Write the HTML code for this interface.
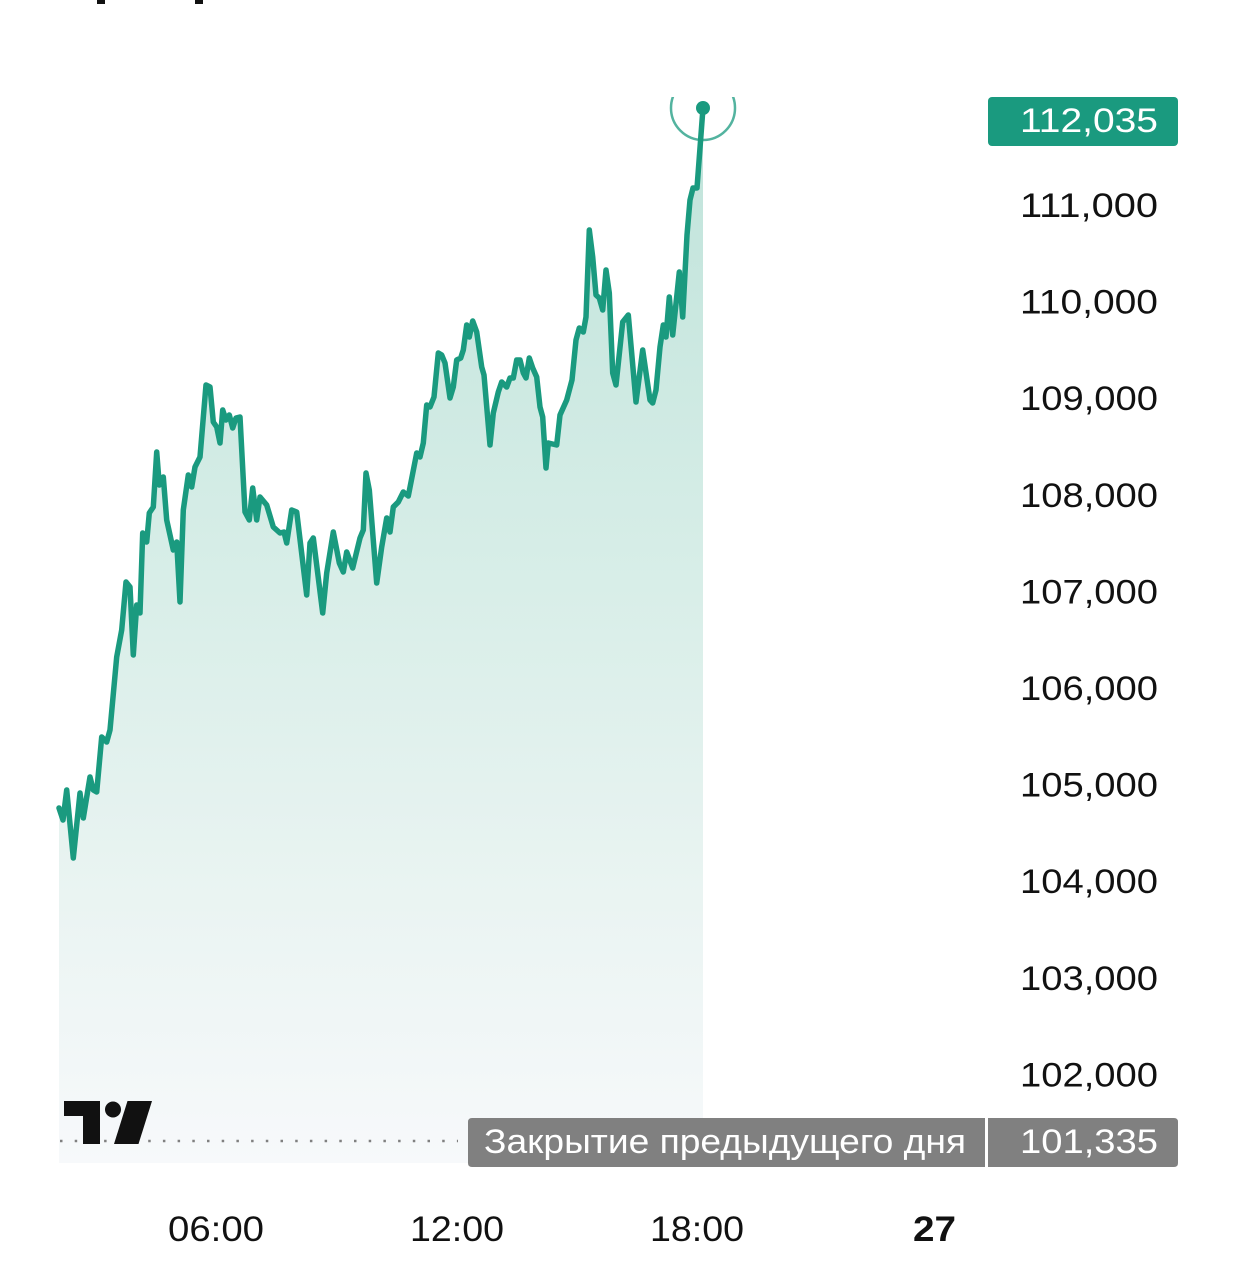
<!DOCTYPE html>
<html><head><meta charset="utf-8"><style>
html,body{margin:0;padding:0;background:#fff;}
svg{display:block;}
text{font-family:"Liberation Sans","DejaVu Sans",sans-serif;}
</style></head><body>
<svg width="1251" height="1280" viewBox="0 0 1251 1280" xmlns="http://www.w3.org/2000/svg">
<defs>
<linearGradient id="g" gradientUnits="userSpaceOnUse" x1="0" y1="108" x2="0" y2="1163">
<stop offset="0" stop-color="#bfe3da"/>
<stop offset="0.45" stop-color="#d8eee8"/>
<stop offset="0.75" stop-color="#eaf4f2"/>
<stop offset="1" stop-color="#f7f9fb"/>
</linearGradient>
<clipPath id="pane"><rect x="0" y="97" width="980" height="1070"/></clipPath>
</defs>
<rect x="97" y="0" width="8" height="4" fill="#111"/>
<rect x="195" y="0" width="8" height="4" fill="#111"/>
<g clip-path="url(#pane)">
<path fill="url(#g)" d="M59,808 L63,820 L66.7,790 L73.3,858 L80,793 L83.3,818 L90,777 L93.3,790 L96.7,792 L101.7,737 L106.7,742 L110,730 L116.7,657 L121.7,630 L126,582 L130,587 L133.3,655 L136.7,605 L140,613 L142.7,533 L146.7,542 L149.3,513 L153.3,507 L156.7,452 L159.3,485 L163.3,477 L166.7,520 L173.3,550 L176.7,542 L180,602 L183.3,510 L188.3,475 L191.7,487 L195,467 L200,457 L206,385 L210,387 L213.3,422 L216.7,427 L220,443 L222.7,410 L226,420 L229.3,415 L232.7,428 L236,418 L240,417 L245,512 L249.3,520 L252.7,488 L256.7,520 L260,497 L266.7,505 L273.3,527 L280,533 L284,532 L286.7,543 L291.7,510 L296.7,512 L306.7,595 L310,543 L313.3,538 L322.7,613 L326.7,573 L333.3,532 L339.3,563 L343.3,572 L346.7,552 L352.7,568 L360,538 L363.3,530 L366,473 L369.3,490 L376.7,583 L381.7,547 L386.7,518 L390,532 L393.3,507 L398.3,502 L403.3,492 L408.3,496 L416.7,453 L420,457 L423.3,443 L426.7,405 L430,407 L434,397 L438.3,353 L441.7,355 L445,363 L450,398 L453.3,387 L456.7,360 L460.7,358 L463.3,350 L466.7,325 L469.3,337 L472.7,321 L476.7,332 L481.7,367 L484,375 L490,445 L493.3,413 L498.3,392 L501.7,382 L506.7,387 L510,378 L513.3,378 L516.7,360 L520,360 L523.3,373 L526,378 L529.3,358 L532.7,368 L536.7,377 L540,407 L542.7,417 L546,468 L548.3,443 L556.7,445 L560,415 L566.7,400 L572,380 L576,340 L579.3,328 L583.3,332 L586,317 L589.3,230 L592.7,257 L596,295 L599.3,298 L602.7,310 L606,270 L609.3,293 L612.7,373 L616,385 L622.7,322 L628.3,315 L636,402 L642.7,350 L650,400 L652.7,403 L656,390 L660,347 L663.3,325 L666,337 L669.3,297 L672.7,335 L679.3,272 L682.7,317 L687,235 L690,200 L693,188 L697,188 L703,108 L703,1163 L59,1163 Z"/>
<path fill="none" stroke="#1a9a7f" stroke-width="5.5" stroke-linejoin="round" stroke-linecap="round" d="M59,808 L63,820 L66.7,790 L73.3,858 L80,793 L83.3,818 L90,777 L93.3,790 L96.7,792 L101.7,737 L106.7,742 L110,730 L116.7,657 L121.7,630 L126,582 L130,587 L133.3,655 L136.7,605 L140,613 L142.7,533 L146.7,542 L149.3,513 L153.3,507 L156.7,452 L159.3,485 L163.3,477 L166.7,520 L173.3,550 L176.7,542 L180,602 L183.3,510 L188.3,475 L191.7,487 L195,467 L200,457 L206,385 L210,387 L213.3,422 L216.7,427 L220,443 L222.7,410 L226,420 L229.3,415 L232.7,428 L236,418 L240,417 L245,512 L249.3,520 L252.7,488 L256.7,520 L260,497 L266.7,505 L273.3,527 L280,533 L284,532 L286.7,543 L291.7,510 L296.7,512 L306.7,595 L310,543 L313.3,538 L322.7,613 L326.7,573 L333.3,532 L339.3,563 L343.3,572 L346.7,552 L352.7,568 L360,538 L363.3,530 L366,473 L369.3,490 L376.7,583 L381.7,547 L386.7,518 L390,532 L393.3,507 L398.3,502 L403.3,492 L408.3,496 L416.7,453 L420,457 L423.3,443 L426.7,405 L430,407 L434,397 L438.3,353 L441.7,355 L445,363 L450,398 L453.3,387 L456.7,360 L460.7,358 L463.3,350 L466.7,325 L469.3,337 L472.7,321 L476.7,332 L481.7,367 L484,375 L490,445 L493.3,413 L498.3,392 L501.7,382 L506.7,387 L510,378 L513.3,378 L516.7,360 L520,360 L523.3,373 L526,378 L529.3,358 L532.7,368 L536.7,377 L540,407 L542.7,417 L546,468 L548.3,443 L556.7,445 L560,415 L566.7,400 L572,380 L576,340 L579.3,328 L583.3,332 L586,317 L589.3,230 L592.7,257 L596,295 L599.3,298 L602.7,310 L606,270 L609.3,293 L612.7,373 L616,385 L622.7,322 L628.3,315 L636,402 L642.7,350 L650,400 L652.7,403 L656,390 L660,347 L663.3,325 L666,337 L669.3,297 L672.7,335 L679.3,272 L682.7,317 L687,235 L690,200 L693,188 L697,188 L703,108"/>
<circle cx="703" cy="108" r="32" fill="none" stroke="#1a9a7f" stroke-opacity="0.75" stroke-width="2.5"/>
<circle cx="703" cy="108" r="7" fill="#1a9a7f"/>
</g>
<line x1="60" y1="1141" x2="458" y2="1141" stroke="#808080" stroke-width="2.5" stroke-dasharray="2.5 12.2" stroke-linecap="butt"/>
<g fill="#111">
<rect x="64" y="1101" width="36" height="15"/>
<rect x="83" y="1101" width="17" height="43"/>
<circle cx="113" cy="1109.5" r="8"/>
<polygon points="127.5,1101 152,1101 138.5,1144 114,1144"/>
</g>
<g font-size="34" fill="#111">
<text x="1020" y="217" textLength="138" lengthAdjust="spacingAndGlyphs">111,000</text>
<text x="1020" y="313.6" textLength="138" lengthAdjust="spacingAndGlyphs">110,000</text>
<text x="1020" y="410.2" textLength="138" lengthAdjust="spacingAndGlyphs">109,000</text>
<text x="1020" y="506.8" textLength="138" lengthAdjust="spacingAndGlyphs">108,000</text>
<text x="1020" y="603.4" textLength="138" lengthAdjust="spacingAndGlyphs">107,000</text>
<text x="1020" y="700" textLength="138" lengthAdjust="spacingAndGlyphs">106,000</text>
<text x="1020" y="796.6" textLength="138" lengthAdjust="spacingAndGlyphs">105,000</text>
<text x="1020" y="893.2" textLength="138" lengthAdjust="spacingAndGlyphs">104,000</text>
<text x="1020" y="989.8" textLength="138" lengthAdjust="spacingAndGlyphs">103,000</text>
<text x="1020" y="1086.4" textLength="138" lengthAdjust="spacingAndGlyphs">102,000</text>
</g>
<rect x="988" y="97" width="190" height="49" rx="4" fill="#1a9a7f"/>
<text x="1020" y="132" font-size="34" fill="#fff" textLength="138" lengthAdjust="spacingAndGlyphs">112,035</text>
<path d="M472,1118 H985 V1167 H472 Q468,1167 468,1163 V1122 Q468,1118 472,1118 Z" fill="#808080"/>
<path d="M988,1118 H1174 Q1178,1118 1178,1122 V1163 Q1178,1167 1174,1167 H988 Z" fill="#808080"/>
<text x="484" y="1153" font-size="34" fill="#fff" textLength="482" lengthAdjust="spacingAndGlyphs">Закрытие предыдущего дня</text>
<text x="1020" y="1153" font-size="34" fill="#fff" textLength="138" lengthAdjust="spacingAndGlyphs">101,335</text>
<g font-size="35" fill="#111">
<text x="168" y="1241" textLength="96" lengthAdjust="spacingAndGlyphs">06:00</text>
<text x="410" y="1241" textLength="94" lengthAdjust="spacingAndGlyphs">12:00</text>
<text x="650" y="1241" textLength="94" lengthAdjust="spacingAndGlyphs">18:00</text>
<text x="913" y="1241" font-weight="bold" textLength="43" lengthAdjust="spacingAndGlyphs">27</text>
</g>
</svg>
</body></html>
